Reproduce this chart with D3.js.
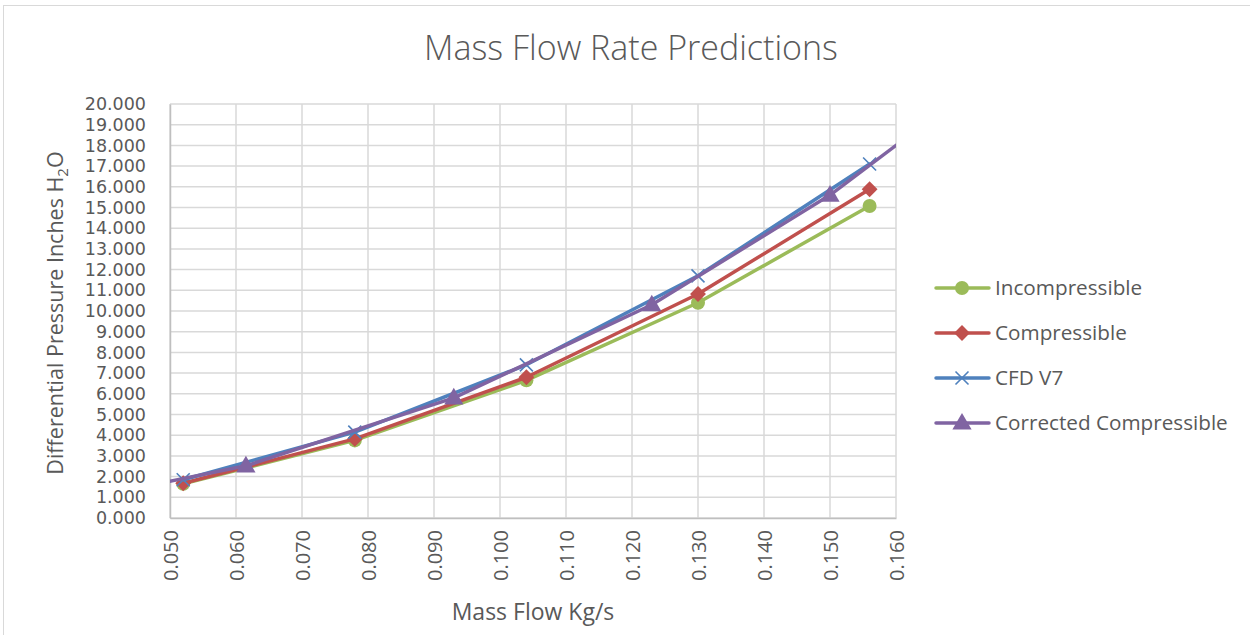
<!DOCTYPE html>
<html>
<head>
<meta charset="utf-8">
<script src="https://cdn.jsdelivr.net/npm/d3@7"></script>
<style>
  html, body { margin: 0; padding: 0; background: #fff; }
  svg text { font-family: "Open Sans", "Liberation Sans", sans-serif; fill: #595959; }
  svg .y-axis text { font-family: "DejaVu Sans", "Liberation Sans", sans-serif; }
</style>
</head>
<body>
<svg id="chart" width="1250" height="635"></svg>
<script>
// Mass flow (kg/s) sample points for each prediction method
const flowMain = [0.052, 0.078, 0.104, 0.130, 0.156];
const incompressible = [1.65, 3.75, 6.65, 10.40, 15.07];
const compressible = [1.68, 3.82, 6.80, 10.82, 15.88];
const cfdV7 = [1.85, 4.15, 7.40, 11.70, 17.10];

// Corrected compressible curve runs past both ends of the axis range
const flowCorrected = [0.045, 0.0615, 0.093, 0.123, 0.150, 0.165];
const corrected = [1.45, 2.52, 5.80, 10.30, 15.60, 19.20];

const xTicks = [0.05, 0.06, 0.07, 0.08, 0.09, 0.10, 0.11, 0.12, 0.13, 0.14, 0.15, 0.16];
const yTicks = d3.range(0, 21, 1);

const seriesNames = ["Incompressible", "Compressible", "CFD V7", "Corrected Compressible"];
const seriesColors = ["#9bbb59", "#c0504d", "#4f81bd", "#8064a2"];
const seriesMarkers = ["circle", "diamond", "cross", "triangle"];

const series = [
  { xs: flowMain, ys: incompressible },
  { xs: flowMain, ys: compressible },
  { xs: flowMain, ys: cfdV7 },
  { xs: flowCorrected, ys: corrected }
].map((s, i) => ({
  name: seriesNames[i],
  color: seriesColors[i],
  marker: seriesMarkers[i],
  points: s.xs.map((x, j) => ({ x, y: s.ys[j] }))
}));

const svg = d3.select("#chart");

// Outer chart frame
svg.append("rect")
  .attr("x", 3.5).attr("y", 5.5)
  .attr("width", 1260).attr("height", 640)
  .attr("fill", "none").attr("stroke", "#d9d9d9").attr("stroke-width", 1);

const plot = { left: 170, top: 104, right: 896, bottom: 518 };

const x = d3.scaleLinear().domain([0.05, 0.16]).range([plot.left, plot.right]);
const y = d3.scaleLinear().domain([0, 20]).range([plot.bottom, plot.top]);

// Title
svg.append("text")
  .attr("x", 631).attr("y", 60)
  .attr("text-anchor", "middle")
  .style("font-size", "34px")
  .style("font-weight", 300)
  .text("Mass Flow Rate Predictions");

// Gridlines
const grid = svg.append("g");
grid.selectAll("line.h").data(yTicks).join("line")
  .attr("x1", plot.left).attr("x2", plot.right)
  .attr("y1", d => y(d)).attr("y2", d => y(d))
  .attr("stroke", "#d9d9d9").attr("stroke-width", 1.5);
grid.selectAll("line.v").data(xTicks).join("line")
  .attr("y1", plot.top).attr("y2", plot.bottom)
  .attr("x1", d => x(d)).attr("x2", d => x(d))
  .attr("stroke", "#d9d9d9").attr("stroke-width", 1.5);

// Y axis
const yAxis = svg.append("g")
  .attr("class", "y-axis")
  .attr("transform", `translate(${plot.left},0)`)
  .call(d3.axisLeft(y).tickValues(yTicks).tickFormat(d3.format(".3f")).tickSize(0).tickPadding(24));
yAxis.select(".domain").attr("stroke", "#bfbfbf").attr("stroke-width", 1.5);
yAxis.selectAll("text").style("font-size", "17.5px").attr("fill", "#595959");

// X axis
const xAxis = svg.append("g")
  .attr("transform", `translate(0,${plot.bottom})`)
  .call(d3.axisBottom(x).tickValues(xTicks).tickFormat(d3.format(".3f")).tickSize(0));
xAxis.select(".domain").attr("stroke", "#bfbfbf").attr("stroke-width", 1.5);
xAxis.selectAll("text")
  .style("font-size", "20px")
  .attr("fill", "#595959")
  .attr("text-anchor", "end")
  .attr("transform", "rotate(-90)")
  .attr("x", -12).attr("y", 0).attr("dy", "0.35em");

// Axis titles
svg.append("text")
  .attr("x", (plot.left + plot.right) / 2).attr("y", 620)
  .attr("text-anchor", "middle")
  .style("font-size", "23px")
  .text("Mass Flow Kg/s");

const yTitle = svg.append("text")
  .attr("transform", `translate(63,${(plot.top + plot.bottom) / 2 + 2}) rotate(-90)`)
  .attr("text-anchor", "middle")
  .style("font-size", "21.5px");
yTitle.append("tspan").text("Differential Pressure Inches H");
yTitle.append("tspan").attr("dy", 5).style("font-size", "15px").text("2");
yTitle.append("tspan").attr("dy", -5).text("O");

// Clip series to the plot area
svg.append("clipPath").attr("id", "plotClip")
  .append("rect")
  .attr("x", plot.left).attr("y", plot.top)
  .attr("width", plot.right - plot.left).attr("height", plot.bottom - plot.top);

function drawMarker(g, type, color, cx, cy) {
  if (type === "circle") {
    g.append("circle").attr("cx", cx).attr("cy", cy).attr("r", 7).attr("fill", color);
  } else if (type === "diamond") {
    g.append("path")
      .attr("d", d3.symbol().type(d3.symbolDiamond2).size(160)())
      .attr("transform", `translate(${cx},${cy})`)
      .attr("fill", color);
  } else if (type === "cross") {
    const s = 6.5;
    g.append("path")
      .attr("d", `M${cx - s},${cy - s}L${cx + s},${cy + s}M${cx - s},${cy + s}L${cx + s},${cy - s}`)
      .attr("stroke", color).attr("stroke-width", 1.6).attr("fill", "none");
  } else if (type === "triangle") {
    g.append("path")
      .attr("d", d3.symbol().type(d3.symbolTriangle).size(160)())
      .attr("transform", `translate(${cx},${cy + 1})`)
      .attr("fill", color);
  }
}

const line = d3.line().x(d => x(d.x)).y(d => y(d.y));
const seriesLayer = svg.append("g").attr("clip-path", "url(#plotClip)");

series.forEach(s => {
  const g = seriesLayer.append("g");
  g.append("path")
    .datum(s.points)
    .attr("d", line)
    .attr("fill", "none")
    .attr("stroke", s.color)
    .attr("stroke-width", 3.5)
    .attr("stroke-linejoin", "round")
    .attr("stroke-linecap", "round");
  s.points
    .filter(p => p.x >= 0.05 && p.x <= 0.16)
    .forEach(p => drawMarker(g, s.marker, s.color, x(p.x), y(p.y)));
});

// Legend
const legend = svg.append("g");
series.forEach((s, i) => {
  const ly = 288 + i * 45;
  const g = legend.append("g");
  g.append("line")
    .attr("x1", 936).attr("x2", 989)
    .attr("y1", ly).attr("y2", ly)
    .attr("stroke", s.color).attr("stroke-width", 3.5).attr("stroke-linecap", "round");
  drawMarker(g, s.marker, s.color, 962, ly);
  g.append("text")
    .attr("x", 995).attr("y", ly).attr("dy", "0.35em")
    .style("font-size", "20.7px")
    .text(s.name);
});
</script>
</body>
</html>
